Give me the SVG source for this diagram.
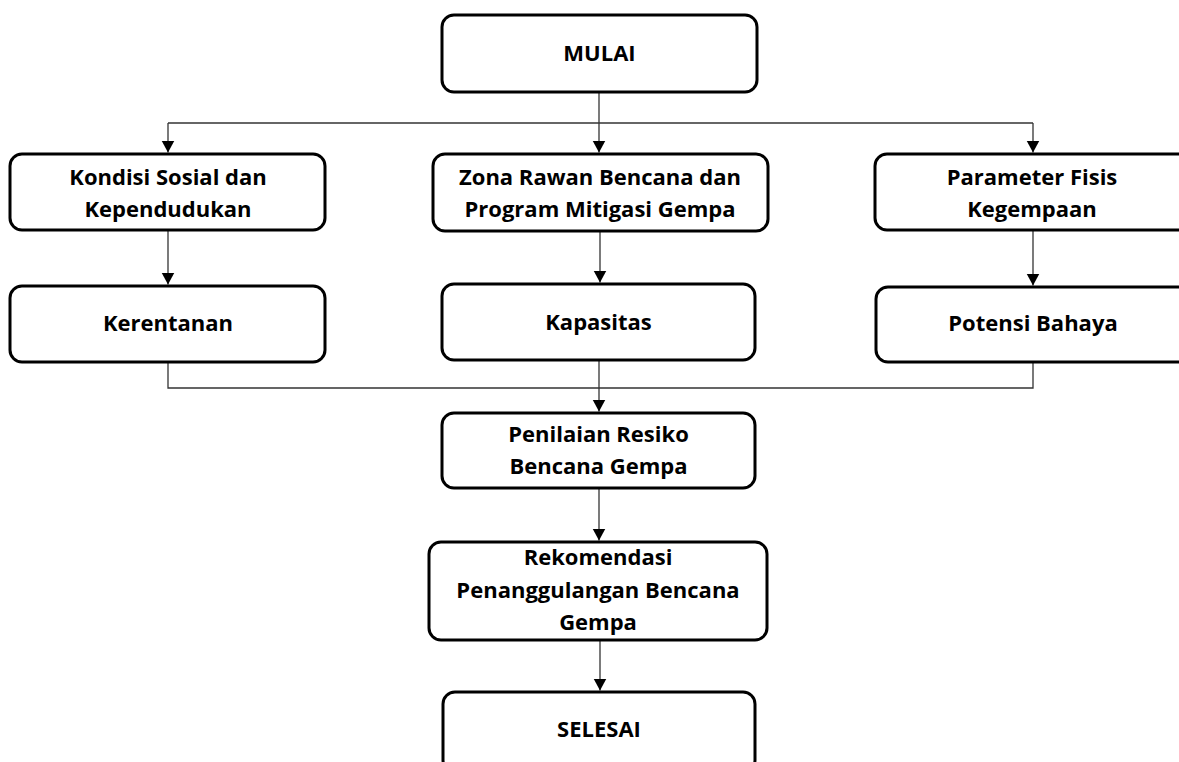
<svg xmlns="http://www.w3.org/2000/svg" width="1179" height="762" viewBox="0 0 1179 762">
<style>
.box{fill:#fff;stroke:#000;stroke-width:3}
.t{font-family:"Open Sans","Liberation Sans",sans-serif;font-weight:bold;font-size:22px;fill:#000;text-anchor:middle}
.c{fill:none;stroke:#333;stroke-width:1.3}
</style>
<defs>
<marker id="ah" markerUnits="userSpaceOnUse" markerWidth="13" markerHeight="14" refX="12" refY="7" orient="auto" viewBox="0 0 13 14">
<path d="M0,0.5 L12,7 L0,13.5 Z" fill="#000"/>
</marker>
</defs>
<rect width="1179" height="762" fill="#fff"/>
<g id="connectors">
<path class="c" d="M599,92 V123"/>
<path class="c" d="M168,123 H1033"/>
<path class="c" d="M168,123 V152.5" marker-end="url(#ah)"/>
<path class="c" d="M599,123 V152.5" marker-end="url(#ah)"/>
<path class="c" d="M1033,123 V152.5" marker-end="url(#ah)"/>
<path class="c" d="M168,230 V284.5" marker-end="url(#ah)"/>
<path class="c" d="M600,231 V282.5" marker-end="url(#ah)"/>
<path class="c" d="M1033,230 V285.5" marker-end="url(#ah)"/>
<path class="c" d="M168,362 V388 H1033 V362"/>
<path class="c" d="M599,360 V411.5" marker-end="url(#ah)"/>
<path class="c" d="M599,488 V540.5" marker-end="url(#ah)"/>
<path class="c" d="M600,640 V690.5" marker-end="url(#ah)"/>
</g>
<g id="mulai">
<rect class="box" x="442" y="15" width="315" height="77" rx="12"/>
<text class="t" x="599.5" y="61">MULAI</text>
</g>
<g id="kondisi">
<rect class="box" x="10" y="154" width="315" height="76" rx="12"/>
<text class="t" x="168" y="185">Kondisi Sosial dan</text>
<text class="t" x="168" y="217">Kependudukan</text>
</g>
<g id="zona">
<rect class="box" x="433" y="154" width="335" height="77" rx="12"/>
<text class="t" x="600" y="185">Zona Rawan Bencana dan</text>
<text class="t" x="600" y="217">Program Mitigasi Gempa</text>
</g>
<g id="parameter">
<rect class="box" x="875" y="154" width="315" height="76" rx="12"/>
<text class="t" x="1032" y="185">Parameter Fisis</text>
<text class="t" x="1032" y="217">Kegempaan</text>
</g>
<g id="kerentanan">
<rect class="box" x="10" y="286" width="315" height="76" rx="12"/>
<text class="t" x="168" y="331">Kerentanan</text>
</g>
<g id="kapasitas">
<rect class="box" x="442" y="284" width="313" height="76" rx="12"/>
<text class="t" x="598.5" y="330">Kapasitas</text>
</g>
<g id="potensi">
<rect class="box" x="876" y="287" width="315" height="75" rx="12"/>
<text class="t" x="1033" y="331">Potensi Bahaya</text>
</g>
<g id="penilaian">
<rect class="box" x="442" y="413" width="313" height="75" rx="12"/>
<text class="t" x="598.5" y="442">Penilaian Resiko</text>
<text class="t" x="598.5" y="474">Bencana Gempa</text>
</g>
<g id="rekomendasi">
<rect class="box" x="429" y="542" width="338" height="98" rx="12"/>
<text class="t" x="598" y="565">Rekomendasi</text>
<text class="t" x="598" y="598">Penanggulangan Bencana</text>
<text class="t" x="598" y="630">Gempa</text>
</g>
<g id="selesai">
<rect class="box" x="443" y="692" width="312" height="80" rx="12"/>
<text class="t" x="599" y="737">SELESAI</text>
</g>
</svg>
